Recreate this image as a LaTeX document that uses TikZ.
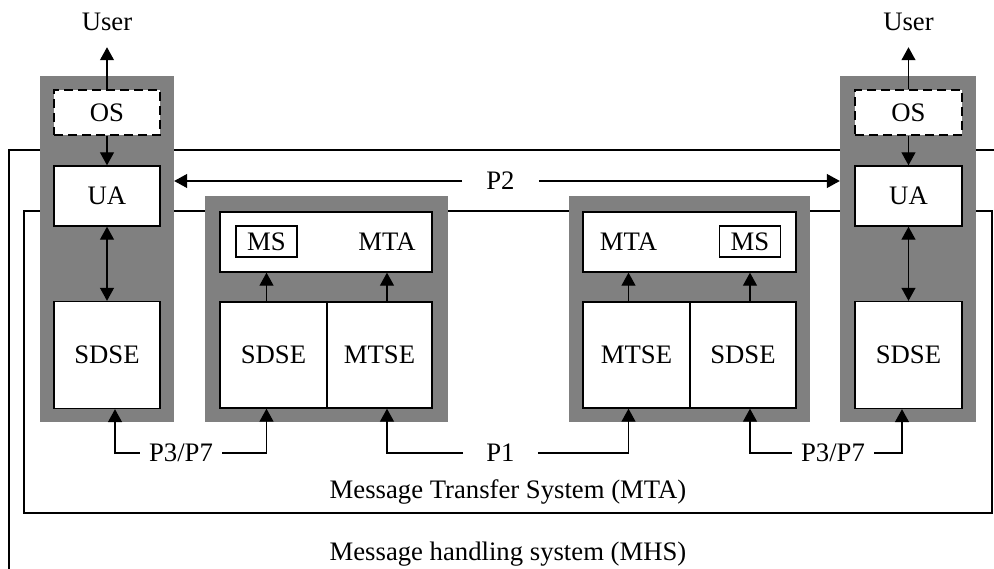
\documentclass[tikz,border=0pt]{standalone}
\usepackage{fontspec}
\setmainfont{Liberation Serif}
\usetikzlibrary{arrows.meta}
\definecolor{blockgray}{RGB}{128,128,128}

\begin{document}
\begin{tikzpicture}[x=1pt,y=-1pt,
    font=\fontsize{26.7}{31}\selectfont,
    frame/.style={line width=1.2pt},
    block/.style={fill=blockgray,inner sep=0pt},
    box/.style={draw,fill=white,line width=1.4pt,inner sep=0pt},
    osbox/.style={box,dash pattern=on 9pt off 5pt},
    msbox/.style={draw,line width=1.2pt,minimum width=61pt,minimum height=31pt,inner sep=0pt},
    arr/.style={line width=1.2pt,-{Triangle[length=13pt,width=14pt]}},
    dbl/.style={line width=1.2pt,{Triangle[length=13pt,width=14pt]}-{Triangle[length=13pt,width=14pt]}},
    lbl/.style={text height=17.5pt,text depth=0pt,inner xsep=9pt}]
  \useasboundingbox (0,0) rectangle (994,569);
  % frames of MHS and MTS
  \coordinate(mhsA) at (9,569);
  \coordinate(mhsB) at (9,150);
  \coordinate(mhsC) at (994,150);
  \draw[frame] (mhsA) -- (mhsB) -- (mhsC);
  \draw[frame] (24,211) rectangle (992,513);
  % gray blocks
  \node[block,minimum width=134pt,minimum height=346pt](grayL) at (107,249){};
  \node[block,minimum width=243pt,minimum height=226pt](grayM1) at (326.5,309){};
  \node[block,minimum width=241pt,minimum height=226pt](grayM2) at (689.5,309){};
  \node[block,minimum width=136pt,minimum height=346pt](grayR) at (908,249){};
  % left user side
  \node[lbl,inner sep=0pt,outer ysep=17pt](userL) at (107,21.5){User};
  \node[osbox,minimum width=106pt,minimum height=45pt](osL) at (107,112.5){OS};
  \node[box,minimum width=106pt,minimum height=60pt](uaL) at (107,196){UA};
  \node[box,minimum width=106pt,minimum height=107pt](sdseL) at (107,355){SDSE};
  \draw[arr] (osL) -- (userL);
  \draw[arr] (osL) -- (uaL);
  \draw[dbl] (uaL) -- (sdseL);
  % right user side
  \node[lbl,inner sep=0pt,outer ysep=17pt](userR) at (908.5,21.5){User};
  \node[osbox,minimum width=107pt,minimum height=45pt](osR) at (908.5,112.5){OS};
  \node[box,minimum width=107pt,minimum height=60pt](uaR) at (908.5,196){UA};
  \node[box,minimum width=107pt,minimum height=107pt](sdseR) at (908.5,355){SDSE};
  \draw[arr] (osR) -- (userR);
  \draw[arr] (osR) -- (uaR);
  \draw[dbl] (uaR) -- (sdseR);
  % first MTA
  \node[box,minimum width=212pt,minimum height=60pt](mtaM1) at (326,242){};
  \node[msbox](msM1) at (266.5,241.5){MS};
  \node(mtaT1) at (387,242){MTA};
  \node[box,minimum width=107pt,minimum height=106pt](sdseM1) at (273.5,355){SDSE};
  \node[box,minimum width=105pt,minimum height=106pt](mtseM1) at (379.5,355){MTSE};
  \draw[arr] (sdseM1.north -| msM1) -- (mtaM1.south -| msM1);
  \draw[arr] (mtseM1.north -| mtaT1) -- (mtaM1.south -| mtaT1);
  % second MTA
  \node[box,minimum width=213pt,minimum height=60pt](mtaM2) at (689.5,242){};
  \node[msbox](msM2) at (750,241.5){MS};
  \node(mtaT2) at (628.5,242){MTA};
  \node[box,minimum width=107pt,minimum height=106pt](mtseM2) at (636.5,355){MTSE};
  \node[box,minimum width=106pt,minimum height=106pt](sdseM2) at (743,355){SDSE};
  \draw[arr] (mtseM2.north -| mtaT2) -- (mtaM2.south -| mtaT2);
  \draw[arr] (sdseM2.north -| msM2) -- (mtaM2.south -| msM2);
  % protocols
  \node[lbl,inner xsep=24pt](p2) at (500.5,181){P2};
  \draw[arr] (p2) -- (grayL.east |- p2);
  \draw[arr] (p2) -- (grayR.west |- p2);
  \node[lbl](p37L) at (181,453){P3/P7};
  \draw[arr] (p37L) -| ([xshift=8pt]sdseL.south);
  \draw[arr] (p37L) -| (sdseM1.south -| msM1);
  \node[lbl,inner xsep=23pt](p1) at (500.5,453){P1};
  \draw[arr] (p1) -| (mtseM1.south -| mtaT1);
  \draw[arr] (p1) -| (mtseM2.south -| mtaT2);
  \node[lbl](p37R) at (833,453){P3/P7};
  \draw[arr] (p37R) -| (sdseM2.south -| msM2);
  \draw[arr] (p37R) -| ([xshift=-6.5pt]sdseR.south);
  % system names
  \node[anchor=base](mts) at (508,498){Message Transfer System (MTA)};
  \node[anchor=base](mhs) at (508,560){Message handling system (MHS)};
\end{tikzpicture}
\end{document}
